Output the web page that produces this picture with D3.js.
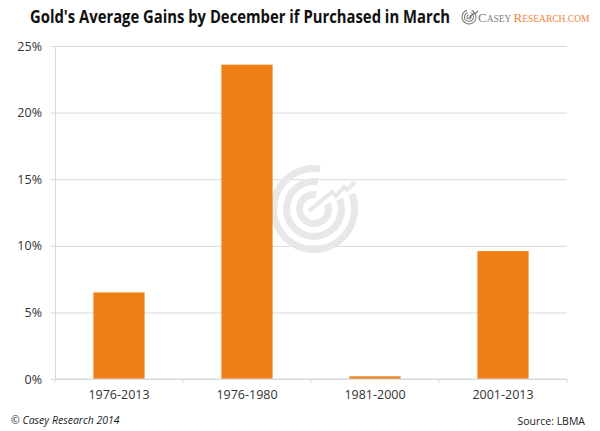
<!DOCTYPE html>
<html>
<head>
<meta charset="utf-8">
<script src="https://cdn.jsdelivr.net/npm/d3@7"></script>
<style>
  body { margin: 0; background: #fff; }
  svg { display: block; font-family: "Open Sans", sans-serif; }
</style>
</head>
<body>
<svg id="chart" width="600" height="431"></svg>
<script>
// data
var categories = ['1976-2013', '1976-1980', '1981-2000', '2001-2013'];
var gains = [6.5, 23.6, 0.2, 9.6];
var yTicks = [0, 5, 10, 15, 20, 25];

var svg = d3.select('#chart'),
  plotL = 55, plotR = 567, plotT = 46, plotB = 379,
  orange = '#F07F15', grid = '#D9D9D9', ink = '#333';

var x = d3.scaleBand().domain(categories).range([plotL, plotR]).paddingInner(0.6).paddingOuter(0.3);
var y = d3.scaleLinear().domain([0, 25]).range([plotB, plotT]);

// title
svg.append('text')
  .attr('x', 30).attr('y', 23)
  .attr('font-weight', 'bold').attr('font-size', 17).attr('fill', '#111')
  .attr('textLength', 420).attr('lengthAdjust', 'spacingAndGlyphs')
  .text("Gold's Average Gains by December if Purchased in March");

// logo icon
var logo = svg.append('g').attr('transform', 'translate(469,17)');
[7.5, 5, 2.5].forEach(function (r) {
  logo.append('path')
    .attr('d', d3.arc()({innerRadius: r - 1, outerRadius: r, startAngle: 0.4, endAngle: 2 * Math.PI - 0.3}))
    .attr('fill', '#777');
});
logo.append('path').attr('d', 'M0,1 L5,-4 L6,-3 L9,-6').attr('stroke', '#777').attr('stroke-width', 1.2).attr('fill', 'none');

var lt = svg.append('text').attr('x', 478).attr('y', 22)
  .attr('font-family', '"Liberation Serif", serif');
lt.append('tspan').attr('font-size', 13).attr('fill', '#808080').text('C');
lt.append('tspan').attr('font-size', 9.5).attr('fill', '#808080').text('ASEY ');
lt.append('tspan').attr('font-size', 13).attr('fill', '#F0843A').text('R');
lt.append('tspan').attr('font-size', 9.5).attr('fill', '#F0843A').text('ESEARCH.COM');

// y axis with gridlines
var yAxis = svg.append('g')
  .attr('transform', 'translate(' + plotL + ',0)')
  .call(d3.axisLeft(y).tickValues(yTicks).tickFormat(function (d) { return d + '%'; })
    .tickSizeInner(-(plotR - plotL)).tickSizeOuter(0).tickPadding(13));
yAxis.select('.domain').attr('stroke', grid);
yAxis.selectAll('.tick line').attr('stroke', grid).attr('x1', -4);
yAxis.selectAll('.tick text').attr('font-size', 12.5).attr('fill', ink).attr('font-family', '"Open Sans", sans-serif');

// watermark
var wm = svg.append('g').attr('transform', 'translate(314,209)').attr('fill', '#E8E8E8');
[[37, 44], [24, 31], [11, 18]].forEach(function (r) {
  wm.append('path')
    .attr('d', d3.arc()({innerRadius: r[0], outerRadius: r[1], startAngle: 1.2, endAngle: 2 * Math.PI + 0.15}));
});
wm.append('path').attr('d', 'M-5,2 L18,-17 L22,-13 L30,-22 L33,-19 L41,-27')
  .attr('stroke', '#E8E8E8').attr('stroke-width', 4).attr('fill', 'none');

// bars
svg.append('g').selectAll('rect')
  .data(categories)
  .join('rect')
  .attr('x', function (d) { return x(d); })
  .attr('width', x.bandwidth())
  .attr('y', function (d, i) { return y(gains[i]); })
  .attr('height', function (d, i) { return y(0) - y(gains[i]); })
  .attr('fill', orange);

// x axis
svg.append('line').attr('x1', plotL).attr('x2', plotR).attr('y1', plotB).attr('y2', plotB).attr('stroke', grid);
var bounds = d3.range(categories.length + 1).map(function (i) { return plotL + i * x.step(); });
svg.append('g').selectAll('line').data(bounds).join('line')
  .attr('x1', function (d) { return d; }).attr('x2', function (d) { return d; })
  .attr('y1', plotB).attr('y2', plotB + 4).attr('stroke', grid);

var xAxis = svg.append('g')
  .attr('transform', 'translate(0,' + plotB + ')')
  .call(d3.axisBottom(x).tickSize(0).tickPadding(11));
xAxis.select('.domain').remove();
xAxis.selectAll('.tick text').attr('font-size', 12.5).attr('fill', ink).attr('font-family', '"Open Sans", sans-serif');

// footer
svg.append('text').attr('x', 11).attr('y', 424)
  .attr('font-size', 10.5).attr('font-style', 'italic').attr('fill', '#222')
  .text('\u00A9 Casey Research 2014');
svg.append('text').attr('x', 585).attr('y', 425).attr('text-anchor', 'end')
  .attr('font-size', 10.5).attr('fill', '#222')
  .text('Source: LBMA');
</script>
</body>
</html>
